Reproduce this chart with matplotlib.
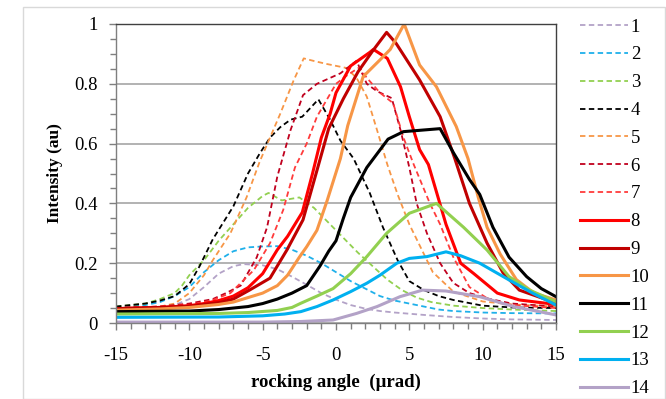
import matplotlib
matplotlib.use("Agg")
import matplotlib.pyplot as plt
from matplotlib.patches import Rectangle
from matplotlib.ticker import MultipleLocator, FuncFormatter

# Rocking curves: angle (µrad) and normalised intensity for each measurement
x1 = [-15, -12, -11, -10, -9, -8, -7, -6.3, -5, -4, -3, -2, -1, 0, 1, 2, 3, 4, 6, 8, 10, 12, 15]
y1 = [0.04, 0.05, 0.06, 0.08, 0.12, 0.165, 0.19, 0.197, 0.193, 0.18, 0.155, 0.128, 0.1, 0.078, 0.06, 0.048, 0.04, 0.035, 0.027, 0.02, 0.015, 0.012, 0.01]

x2 = [-15, -13, -12, -11, -10, -9, -8, -7, -6, -5, -4, -3, -2, -1, 0, 1, 2, 3, 4, 5, 6, 7, 8, 10, 12, 15]
y2 = [0.05, 0.06, 0.07, 0.09, 0.12, 0.17, 0.21, 0.24, 0.253, 0.256, 0.257, 0.245, 0.225, 0.2, 0.17, 0.14, 0.115, 0.09, 0.075, 0.065, 0.055, 0.045, 0.04, 0.035, 0.033, 0.032]

x3 = [-15, -13, -12, -11, -10.5, -10, -9, -8, -7, -6, -5, -4.6, -3.7, -2.5, -1.5, -0.5, 0.5, 1.5, 2.5, 3.5, 4.5, 5.5, 6.5, 8, 10, 12, 15]
y3 = [0.055, 0.065, 0.08, 0.1, 0.125, 0.16, 0.21, 0.275, 0.33, 0.385, 0.425, 0.435, 0.41, 0.42, 0.385, 0.335, 0.285, 0.235, 0.19, 0.145, 0.11, 0.085, 0.07, 0.058, 0.05, 0.045, 0.04]

x4 = [-15, -13, -12, -11, -10, -9.3, -8.4, -7, -6, -5.2, -4.5, -3.8, -3.1, -2.3, -1.2, -0.4, 0.3, 1.2, 2.3, 3.2, 4.2, 5, 6, 7, 8, 10, 12, 15]
y4 = [0.055, 0.065, 0.075, 0.09, 0.13, 0.19, 0.28, 0.39, 0.5, 0.567, 0.62, 0.655, 0.68, 0.69, 0.748, 0.68, 0.61, 0.55, 0.435, 0.32, 0.21, 0.14, 0.11, 0.09, 0.077, 0.058, 0.052, 0.05]

x5 = [-15, -12, -11, -10, -9, -8.4, -7.2, -6.1, -5.2, -4.5, -3.8, -2.9, -2.2, -1.4, -0.6, 0.7, 1.4, 2.1, 2.8, 3.5, 4.2, 5, 5.9, 6.6, 8, 10, 12, 15]
y5 = [0.05, 0.055, 0.065, 0.1, 0.16, 0.21, 0.3, 0.42, 0.54, 0.62, 0.7, 0.81, 0.885, 0.875, 0.866, 0.853, 0.82, 0.757, 0.645, 0.53, 0.43, 0.33, 0.24, 0.17, 0.105, 0.072, 0.062, 0.055]

x6 = [-15, -12, -10, -8.4, -7.5, -6.5, -5.4, -4.7, -4, -3.1, -2.25, -1.3, 0.3, 1.4, 2.1, 2.8, 3.8, 4.4, 5, 5.5, 6.2, 7.1, 8, 9.1, 10.5, 12, 15]
y6 = [0.05, 0.055, 0.065, 0.08, 0.1, 0.125, 0.22, 0.32, 0.49, 0.645, 0.762, 0.8, 0.835, 0.877, 0.8, 0.775, 0.752, 0.645, 0.52, 0.4, 0.3, 0.2, 0.134, 0.1, 0.08, 0.065, 0.055]

x7 = [-15, -12, -10, -8.5, -7.2, -5.6, -4.5, -3.6, -2.8, -2, -1.3, 0, 0.8, 1.6, 2.1, 3, 3.9, 4.6, 5.3, 6.4, 7.1, 8, 9.1, 10.5, 12, 15]
y7 = [0.05, 0.055, 0.06, 0.075, 0.1, 0.177, 0.267, 0.378, 0.52, 0.6, 0.69, 0.8, 0.83, 0.855, 0.82, 0.77, 0.735, 0.62, 0.53, 0.4, 0.33, 0.22, 0.12, 0.077, 0.06, 0.05]

x8 = [-15, -12, -10, -9, -8, -7, -6, -5, -4, -3.3, -2.3, -1.6, -1, -0.4, 0, 1, 2.3, 2.55, 3.5, 4.4, 5, 5.7, 6.3, 7.5, 8.5, 9.4, 11, 12.5, 15]
y8 = [0.048, 0.052, 0.058, 0.065, 0.075, 0.09, 0.118, 0.165, 0.245, 0.29, 0.37, 0.5, 0.62, 0.7, 0.77, 0.86, 0.905, 0.915, 0.885, 0.79, 0.69, 0.58, 0.53, 0.33, 0.2, 0.165, 0.1, 0.077, 0.062]

x9 = [-15, -12, -10, -8, -7, -5.9, -4.5, -3.35, -2.25, -1.3, -0.5, 0.5, 1.5, 2.5, 3.45, 4.1, 5.7, 7.1, 8.1, 9.1, 10.3, 11.4, 12.5, 15]
y9 = [0.048, 0.052, 0.056, 0.068, 0.08, 0.11, 0.15, 0.244, 0.345, 0.51, 0.65, 0.75, 0.84, 0.91, 0.972, 0.935, 0.813, 0.69, 0.55, 0.4, 0.267, 0.167, 0.11, 0.067]

x10 = [-15, -12, -10, -8, -7, -6, -5, -4, -3.3, -2.5, -2, -1.3, -0.6, 0.3, 0.8, 1.85, 3, 3.7, 4.65, 5.7, 6.85, 8.2, 9, 9.7, 10.3, 11.2, 12.3, 13.5, 15]
y10 = [0.043, 0.047, 0.052, 0.062, 0.07, 0.085, 0.1, 0.125, 0.16, 0.22, 0.255, 0.31, 0.41, 0.55, 0.66, 0.824, 0.88, 0.915, 1.0, 0.863, 0.79, 0.657, 0.55, 0.42, 0.32, 0.23, 0.145, 0.1, 0.077]

x11 = [-15, -10, -8, -6, -5, -4, -3, -2, -1.1, -0.5, 0, 0.5, 1, 2.1, 3.55, 4.6, 7.1, 8, 9.1, 9.8, 10.7, 11.8, 13, 14, 15]
y11 = [0.038, 0.04, 0.045, 0.055, 0.065, 0.08, 0.1, 0.125, 0.19, 0.24, 0.275, 0.35, 0.42, 0.52, 0.615, 0.64, 0.65, 0.57, 0.48, 0.43, 0.32, 0.22, 0.155, 0.115, 0.088]

x12 = [-15, -8, -6, -4, -3, -2.4, -1.3, -0.2, 1, 2.1, 3.45, 5, 6.85, 8.7, 10.3, 11.8, 13.2, 15]
y12 = [0.03, 0.032, 0.035, 0.042, 0.052, 0.066, 0.09, 0.115, 0.165, 0.222, 0.3, 0.367, 0.4, 0.32, 0.244, 0.155, 0.11, 0.071]

x13 = [-15, -8, -5, -3.5, -2.4, -1.3, -0.2, 1, 2.1, 3, 4.15, 5, 6.2, 7.5, 8.5, 9.8, 11.8, 13.4, 15]
y13 = [0.019, 0.02, 0.024, 0.03, 0.038, 0.055, 0.077, 0.105, 0.133, 0.16, 0.2, 0.216, 0.222, 0.238, 0.225, 0.2, 0.144, 0.1, 0.06]

x14 = [-15, -5, -2.4, -0.2, 1.4, 2.8, 4.36, 5.9, 7.5, 9.8, 12.1, 15]
y14 = [0.003, 0.003, 0.005, 0.01, 0.032, 0.055, 0.088, 0.11, 0.107, 0.088, 0.055, 0.027]

labels = [str(i) for i in range(1, 15)]
colors = ["#b3a2c7", "#1fb0ea", "#92d050", "#000000", "#f79646", "#c0001e", "#ff3b3b",
          "#ff0000", "#c00000", "#f79646", "#000000", "#92d050", "#00b0f0", "#b3a2c7"]
dashed = [True] * 7 + [False] * 7

xs = [x1, x2, x3, x4, x5, x6, x7, x8, x9, x10, x11, x12, x13, x14]
ys = [y1, y2, y3, y4, y5, y6, y7, y8, y9, y10, y11, y12, y13, y14]

serif = ["Liberation Serif", "DejaVu Serif"]
plt.rcParams["font.family"] = serif
plt.rcParams["axes.unicode_minus"] = False
fs = 13.5

fig = plt.figure(figsize=(6.66, 3.99), dpi=100)
fig.patches.append(Rectangle((23 / 666, 0.0), 0.999 - 23 / 666, 1 - 7 / 399,
                             transform=fig.transFigure, fill=False,
                             edgecolor="#d9d9d9", linewidth=1.0))
ax = fig.add_axes([116 / 666, 1 - 323 / 399, (556 - 116) / 666, (323 - 24) / 399])

for xv, yv, c, d, lab in zip(xs, ys, colors, dashed, labels):
    if d:
        ax.plot(xv, yv, color=c, linewidth=1.3, linestyle=(0, (3.0, 1.9)), label=lab)
    else:
        ax.plot(xv, yv, color=c, linewidth=2.2, solid_joinstyle="round", label=lab)

ax.set_xlim(-15, 15)
ax.set_ylim(0, 1)
ax.xaxis.set_major_locator(MultipleLocator(5))
ax.xaxis.set_minor_locator(MultipleLocator(1))
ax.yaxis.set_major_locator(MultipleLocator(0.2))
ax.yaxis.set_minor_locator(MultipleLocator(0.05))
ax.yaxis.set_major_formatter(FuncFormatter(lambda v, p: "%g" % round(v, 2)))

ax.tick_params(axis="both", which="both", direction="out", color="#7f7f7f", labelsize=fs)
ax.tick_params(axis="both", which="major", length=5, width=1)
ax.tick_params(axis="both", which="minor", length=4, width=1)
ax.tick_params(axis="y", pad=8)
ax.tick_params(axis="x", pad=12)

ax.grid(axis="y", which="major", color="#a6a6a6", linewidth=1.2)
ax.set_axisbelow(True)
for s in ax.spines.values():
    s.set_color("#404040")
    s.set_linewidth(1.0)
ax.spines["left"].set_color("#7f7f7f")
ax.spines["bottom"].set_color("#7f7f7f")

ax.set_xlabel("rocking angle  (µrad)", fontsize=fs, fontweight="bold", labelpad=7)
ax.set_ylabel("Intensity (au)", fontsize=12.5, fontweight="bold", labelpad=8)

fig.legend(loc="upper left", bbox_to_anchor=(580 / 666, 1 - 18.5 / 399), frameon=False,
           fontsize=fs, handlelength=2.55, handletextpad=0.15, labelspacing=0.57,
           borderpad=0, borderaxespad=0)

fig.savefig("out.png", dpi=100)
